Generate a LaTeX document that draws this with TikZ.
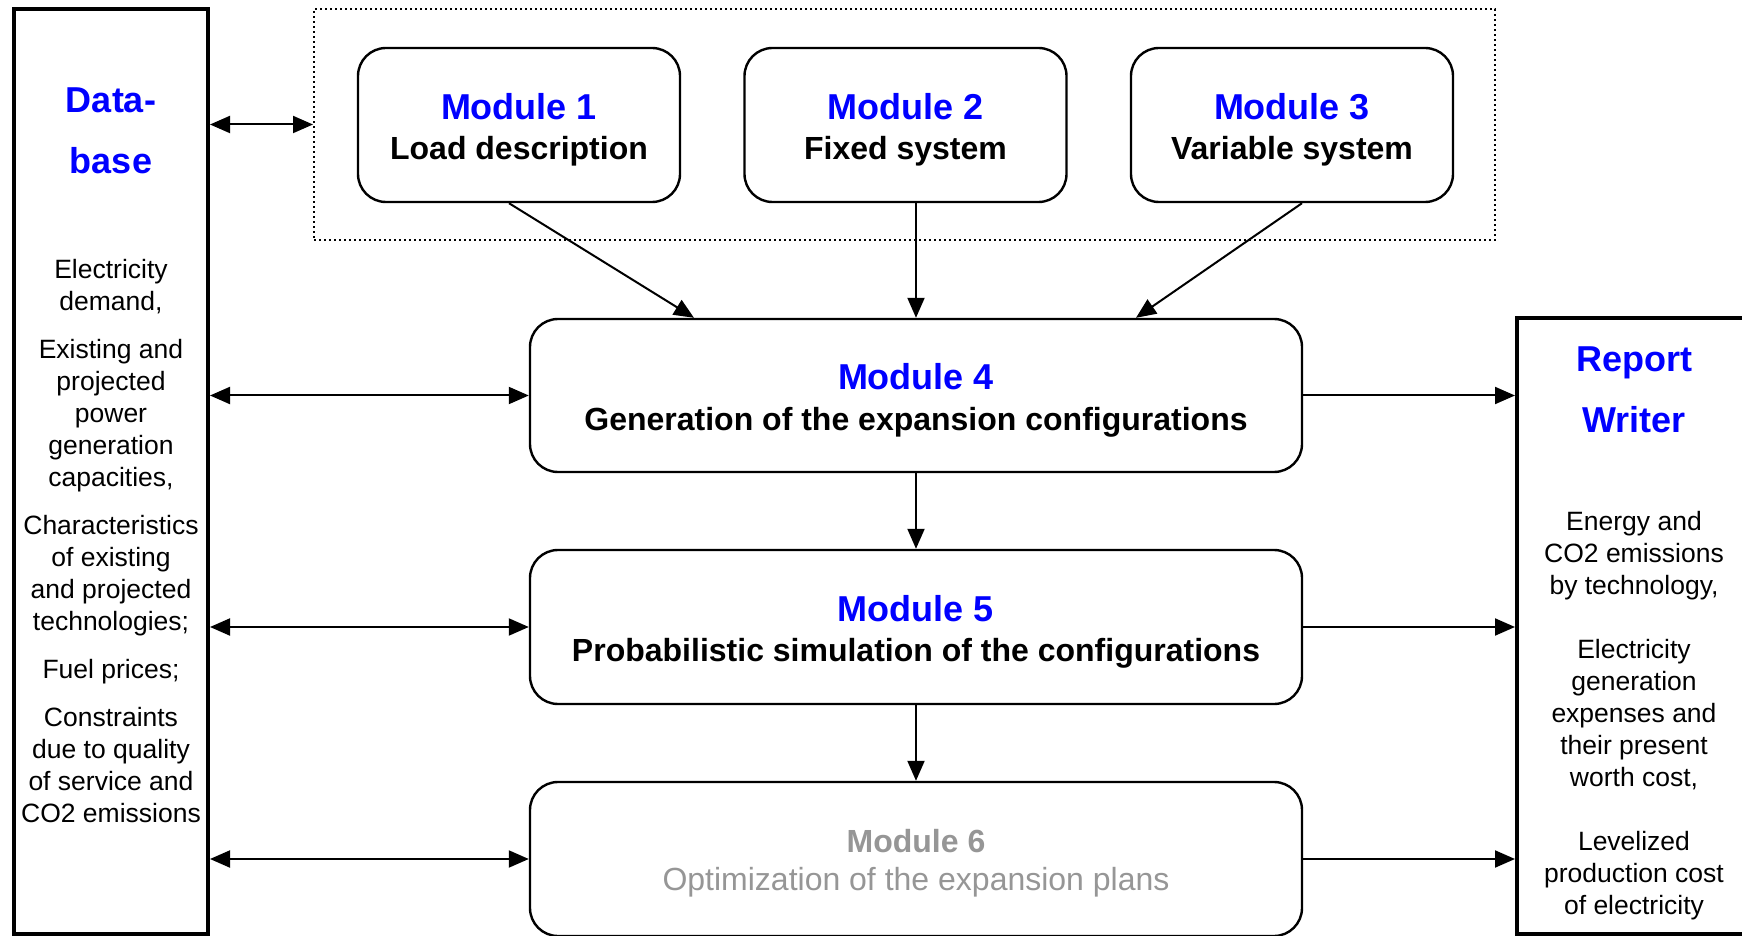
\documentclass[tikz,border=0pt]{standalone}
\usepackage{fontspec}
\setmainfont{Liberation Sans}
\usetikzlibrary{arrows.meta,calc}
\definecolor{modblue}{RGB}{0,0,255}
\definecolor{modgray}{RGB}{150,150,150}
\newcommand{\modtitle}[1]{{\fontsize{18pt}{20.2pt}\selectfont\color{modblue}\rule{0pt}{18pt}#1}}
\begin{document}
\begin{tikzpicture}[x=0.5pt,y=-0.5pt,
  modbox/.style={draw,line width=1.2pt,rounded corners=14pt,inner sep=0pt,align=center,
    font=\fontsize{16pt}{20.2pt}\selectfont\bfseries},
  sidebox/.style={draw,line width=2pt,inner sep=0pt},
  grpbox/.style={draw,line width=1pt,dash pattern=on 1pt off 1.5pt,inner sep=0pt},
  titletext/.style={align=center,text=modblue,font=\fontsize{18pt}{30.5pt}\selectfont\bfseries},
  bodytext/.style={align=center,font=\fontsize{13.25pt}{16pt}\selectfont},
  conn/.style={line width=1pt},
  tip/.style={-{Triangle[length=10pt,width=8.5pt]}},
  bitip/.style={{Triangle[length=10pt,width=8.5pt]}-{Triangle[length=10pt,width=8.5pt]}}
]
\useasboundingbox (0,0) rectangle (1742,936);
\clip (0,0) rectangle (1742,936);

% group box
\node[grpbox,minimum width=590.5pt,minimum height=115.5pt] (grp) at (904.5,124.5) {};

% modules
\node[modbox,minimum width=161pt,minimum height=77pt] (m1) at (519,125)
  {\modtitle{Module 1}\\Load description};
\node[modbox,minimum width=161pt,minimum height=77pt] (m2) at (905.5,125)
  {\modtitle{Module 2}\\Fixed system};
\node[modbox,minimum width=161pt,minimum height=77pt] (m3) at (1292,125)
  {\modtitle{Module 3}\\Variable system};
\node[modbox,minimum width=386pt,minimum height=76.5pt] (m4) at (916,395.5)
  {\modtitle{Module 4}\\Generation of the expansion configurations};
\node[modbox,minimum width=386pt,minimum height=77pt] (m5) at (916,627)
  {\modtitle{Module 5}\\Probabilistic simulation of the configurations};
\node[modbox,minimum width=386pt,minimum height=77pt,text=modgray,font=\fontsize{16pt}{19pt}\selectfont] (m6) at (916,859)
  {\rule{0pt}{16.2pt}\textbf{Module 6}\\Optimization of the expansion plans};

% side boxes
\node[sidebox,minimum width=97pt,minimum height=462.5pt] (db) at (111,471.5) {};
\node[sidebox,minimum width=121.5pt,minimum height=308pt] (rw) at (1638.5,626) {};

\node[titletext] (dbt) at (111,130.5) {Data-\\base};
\node[bodytext] (dbb) at (111,541) {Electricity\\demand,\\[8pt]Existing and\\projected\\power\\generation\\capacities,\\[8pt]Characteristics\\of existing\\and projected\\technologies;\\[8pt]Fuel prices;\\[8pt]Constraints\\due to quality\\of service and\\CO2 emissions};

\node[titletext] (rwt) at (1634,390) {Report\\Writer};
\node[bodytext] (rwb) at (1634,716) {Energy and\\CO2 emissions\\by technology,\\[16pt]Electricity\\generation\\expenses and\\their present\\worth cost,\\[16pt]Levelized\\production cost\\of electricity};

% connectors
\draw[conn,bitip] (db.east |- grp.west) -- (grp.west);
\draw[conn,bitip] (db.east |- m4.west) -- (m4.west);
\draw[conn,bitip] (db.east |- m5.west) -- (m5.west);
\draw[conn,bitip] (db.east |- m6.west) -- (m6.west);
\draw[conn,tip] (m4.east) -- (rw.west |- m4.east);
\draw[conn,tip] (m5.east) -- (rw.west |- m5.east);
\draw[conn,tip] (m6.east) -- (rw.west |- m6.east);
\draw[conn,tip] ($(m1.south)+(-10,0)$) -- ($(m4.north)+(-222,0)$);
\draw[conn,tip] (m4.north |- m2.south) -- (m4.north);
\draw[conn,tip] ($(m3.south)+(10,0)$) -- ($(m4.north)+(220,0)$);
\draw[conn,tip] (m4.south) -- (m5.north);
\draw[conn,tip] (m5.south) -- (m6.north);
\end{tikzpicture}
\end{document}
